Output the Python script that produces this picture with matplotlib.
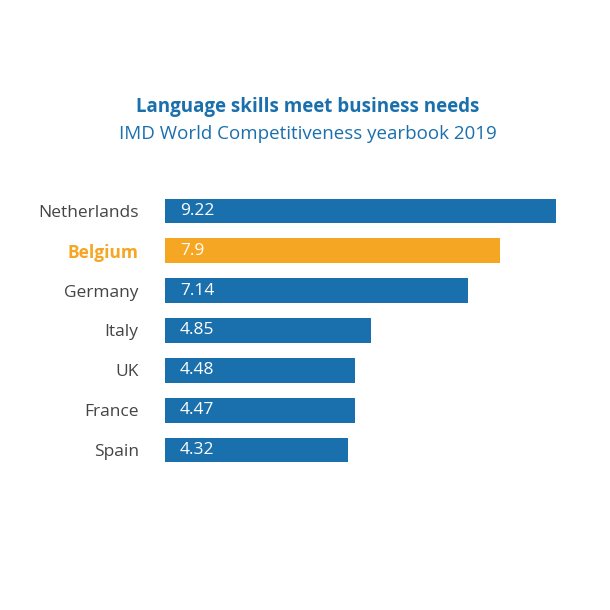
import matplotlib.pyplot as plt

countries = ["Netherlands", "Belgium", "Germany", "Italy", "UK", "France", "Spain"]
scores = [9.22, 7.9, 7.14, 4.85, 4.48, 4.47, 4.32]
labels = ["9.22", "7.9", "7.14", "4.85", "4.48", "4.47", "4.32"]

blue = "#1a6fad"
orange = "#f5a623"
colors = [orange if c == "Belgium" else blue for c in countries]

fig = plt.figure(figsize=(6.1, 6.1), dpi=100)
ax = fig.add_axes([165 / 610, 1 - 470 / 610, (556 - 165) / 610, (470 - 191) / 610])

y = list(range(len(countries)))
ax.barh(y, scores, color=colors, height=0.62)
ax.set_xlim(0, 9.22)
ax.set_ylim(len(countries) - 0.5, -0.5)
for yi, s, lab in zip(y, scores, labels):
    ax.text(0.35, yi, lab, color="white", va="center", ha="left", fontsize=12.5, family="Open Sans")

ax.set_yticks(y)
ax.set_yticklabels(countries, fontsize=12.5, family="Open Sans", color="#444444")
for t, c in zip(ax.get_yticklabels(), countries):
    if c == "Belgium":
        t.set_color(orange)
        t.set_fontweight("bold")
ax.tick_params(length=0, pad=19)
ax.set_xticks([])
for sp in ax.spines.values():
    sp.set_visible(False)

fig.text(0.505, 1 - 107 / 610, "Language skills meet business needs", ha="center", va="center",
         fontsize=13.5, fontweight="bold", color=blue, family="Open Sans")
fig.text(0.505, 1 - 134 / 610, "IMD World Competitiveness yearbook 2019", ha="center", va="center",
         fontsize=13.5, color=blue, family="Open Sans")

fig.savefig("out.png", dpi=100)
